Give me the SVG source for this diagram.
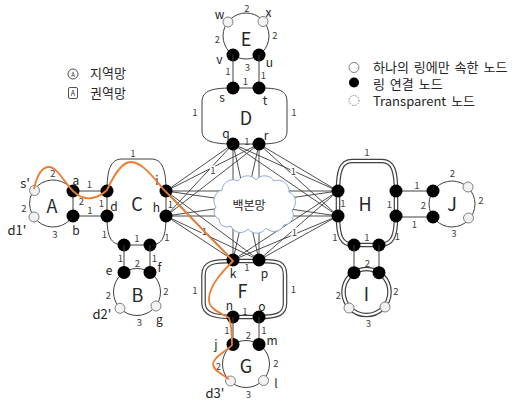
<svg xmlns="http://www.w3.org/2000/svg" width="526" height="401" viewBox="0 0 526 401">
<style>
text{font-family:"Noto Sans CJK KR","Noto Sans",sans-serif;text-anchor:middle;dominant-baseline:central;fill:#262626}
.n{font-size:9.5px;fill:#404040}
.h{stroke:#fff;stroke-width:3px;paint-order:stroke}
.lb{font-size:12px}
.dl{font-size:13px}
.rg{font-size:18px}
.lg{font-size:13px;text-anchor:start;word-spacing:2px}
.ln{fill:none;stroke:#404040;stroke-width:1}
.mesh line{stroke:#3a3a3a;stroke-width:0.9}
.dO{fill:none;stroke:#404040;stroke-width:4.6}
.dI{fill:none;stroke:#fff;stroke-width:2.2}
.bk{fill:#000}
.wt{fill:#f2f2f2;stroke:#7f7f7f;stroke-width:1}
.route{fill:none;stroke:#ED7D31;stroke-width:1.8}
</style>
<defs>
<path id="pH" d="M338,191 C338,171 341,161 352,161 L382,161 C393,161 396,171 396,191 M338,191 V216 M396,191 V216 M338,216 C338,236 341,245 354,245 H379 C393,245 396,236 396,216"/>
<path id="pF" d="M233,261 C214,261 203.5,262 203.5,275 L203.5,303 C203.5,314 214,317 233,317 M259,261 C278,261 285,262 285,275 L285,303 C285,314 278,317 259,317 M233,261 H259 M233,317 H259"/>
<circle id="pI" cx="366.5" cy="292" r="23"/>
</defs>

<!-- legend -->
<g id="legend">
<circle cx="73" cy="74" r="5" fill="#fff" stroke="#404040" stroke-width="0.9"/>
<text x="73" y="74" style="font-size:6px">A</text>
<text class="lg" x="90" y="72">지역망</text>
<rect x="68.5" y="87.5" width="9" height="11" rx="1.5" fill="#fff" stroke="#404040" stroke-width="0.9"/>
<text x="73" y="93" style="font-size:7px">A</text>
<text class="lg" x="90" y="92">권역망</text>
<circle cx="354" cy="67.5" r="5" fill="#fff" stroke="#7f7f7f"/>
<circle cx="354" cy="82.5" r="5" fill="#000"/>
<circle cx="354" cy="100.5" r="5" fill="#fff" stroke="#7f7f7f" stroke-dasharray="1.5 1.2"/>
<text class="lg" x="373" y="66.5">하나의 링에만 속한 노드</text>
<text class="lg" x="373" y="83">링 연결 노드</text>
<text class="lg" x="373" y="100.5">Transparent 노드</text>
</g>

<!-- connectors: backbone mesh and inter-ring links -->
<g id="connectors">
<g class="mesh">
<line x1="233" y1="144" x2="166" y2="191"/><line x1="233" y1="144" x2="166" y2="216"/>
<line x1="259" y1="144" x2="166" y2="191"/><line x1="259" y1="144" x2="166" y2="216"/>
<line x1="233" y1="144" x2="233" y2="260"/><line x1="233" y1="144" x2="259" y2="260"/>
<line x1="259" y1="144" x2="233" y2="260"/><line x1="259" y1="144" x2="259" y2="260"/>
<line x1="233" y1="144" x2="338" y2="191"/><line x1="233" y1="144" x2="338" y2="216"/>
<line x1="259" y1="144" x2="338" y2="191"/><line x1="259" y1="144" x2="338" y2="216"/>
<line x1="166" y1="191" x2="233" y2="260"/><line x1="166" y1="191" x2="259" y2="260"/>
<line x1="166" y1="216" x2="233" y2="260"/><line x1="166" y1="216" x2="259" y2="260"/>
<line x1="166" y1="191" x2="338" y2="191"/><line x1="166" y1="191" x2="338" y2="216"/>
<line x1="166" y1="216" x2="338" y2="191"/><line x1="166" y1="216" x2="338" y2="216"/>
<line x1="233" y1="260" x2="338" y2="191"/><line x1="233" y1="260" x2="338" y2="216"/>
<line x1="259" y1="260" x2="338" y2="191"/><line x1="259" y1="260" x2="338" y2="216"/>
</g>
<text class="n h" x="213" y="169.5">1</text>
<text class="n h" x="293.5" y="171">1</text>
<text class="n h" x="294.5" y="232">1</text>
<text class="n h" x="204.5" y="231">1</text>
<!-- links between neighbouring rings -->
<path class="ln" d="M73,191 H107 M73,216 H107 M396,191 H433 M396,217 H433"/>
<text class="n" x="89.5" y="184">1</text>
<text class="n" x="90" y="209.5">1</text>
<text class="n" x="417" y="185">1</text>
<text class="n" x="414.5" y="224">1</text>
</g>

<!-- backbone cloud -->
<g id="backbone">
<path d="M216,207 A11,11 0 0 1 222,190 A11,11 0 0 1 238,181 A11,11 0 0 1 256,180 A11,11 0 0 1 274,181 A11,11 0 0 1 289,192 A11,11 0 0 1 292,210 A10,10 0 0 1 284,225 A11,11 0 0 1 266,228 A11,11 0 0 1 248,229 A10,10 0 0 1 231,226 A8,8 0 0 1 219,219 A7.5,7.5 0 0 1 216,207 Z" fill="#fff" stroke="#8FAADC" stroke-width="1"/>
<text x="249" y="204" style="font-size:12px">백본망</text>
</g>

<!-- ring A -->
<g id="ring-A">
<path class="ln" d="M73,191 A23.5,23.5 0 1 0 73,216 Z"/>
<circle class="wt" cx="34.5" cy="190.5" r="5"/>
<circle class="wt" cx="34" cy="217" r="5"/>
<circle class="bk" cx="73" cy="191" r="6.5"/>
<circle class="bk" cx="73" cy="216" r="6.5"/>
<text class="rg" x="52" y="205">A</text>
<text class="n" x="53" y="173">2</text>
<text class="n" x="24" y="208">2</text>
<text class="n" x="55" y="234">3</text>
<text class="n" x="81.5" y="201">2</text>
<text class="dl" x="25" y="182">s'</text>
<text class="dl" x="17" y="229">d1'</text>
<text class="lb" x="76" y="179.5">a</text>
<text class="lb" x="76" y="229">b</text>
</g>

<!-- ring C -->
<g id="ring-C">
<path class="ln" d="M107,191 C107,171 110,159 122,159 L151,159 C163,159 166,171 166,191 M107,191 V216 M166,191 V216 M107,216 C107,236 110,245 124,245 H150 C163,245 166,236 166,216"/>
<circle class="bk" cx="107" cy="191" r="6.5"/>
<circle class="bk" cx="107" cy="216" r="6.5"/>
<circle class="bk" cx="166" cy="191" r="6.5"/>
<circle class="bk" cx="166" cy="216" r="6.5"/>
<circle class="bk" cx="124" cy="245" r="6.5"/>
<circle class="bk" cx="150" cy="245" r="6.5"/>
<text class="rg" x="137" y="203">C</text>
<text class="n" x="133" y="152.5">1</text>
<text class="n" x="101.5" y="203">1</text>
<text class="n" x="170.5" y="203.5">1</text>
<text class="n" x="104.5" y="234">1</text>
<text class="n" x="137" y="237.5">1</text>
<text class="n" x="167" y="237">1</text>
<text class="lb" x="114" y="205.5">d</text>
<text class="lb" x="156.5" y="206.5">h</text>
<text class="lb" x="157" y="179.5">i</text>
</g>

<!-- ring B -->
<g id="ring-B">
<path class="ln" d="M124,245 V272.4 M150,245 V272.4"/>
<circle class="ln" cx="137" cy="292" r="23.5"/>
<circle class="wt" cx="120" cy="308.3" r="5"/>
<circle class="wt" cx="156" cy="306" r="5"/>
<circle class="bk" cx="124" cy="272.4" r="6.5"/>
<circle class="bk" cx="150" cy="272.4" r="6.5"/>
<text class="rg" x="137.5" y="294">B</text>
<text class="n" x="120.5" y="258">1</text>
<text class="n" x="154.5" y="258">1</text>
<text class="n" x="137.5" y="263">2</text>
<text class="n" x="108.5" y="295">2</text>
<text class="n" x="166" y="291">2</text>
<text class="n" x="139.5" y="322">3</text>
<text class="lb" x="109" y="269.5">e</text>
<text class="lb" x="159.5" y="266">f</text>
<text class="dl" x="102" y="313">d2'</text>
<text class="lb" x="159.5" y="318">g</text>
</g>

<!-- ring E -->
<g id="ring-E">
<circle class="ln" cx="246" cy="36" r="23"/>
<circle class="wt" cx="228" cy="22" r="5"/>
<circle class="wt" cx="263" cy="21.5" r="5"/>
<circle class="bk" cx="233" cy="55" r="6.5"/>
<circle class="bk" cx="259" cy="55" r="6.5"/>
<text class="rg" x="246" y="37.5">E</text>
<text class="n" x="247" y="7.5">2</text>
<text class="n" x="217.5" y="39">2</text>
<text class="n" x="275" y="35">2</text>
<text class="n" x="247.5" y="66.5">3</text>
<text class="lb" x="219.5" y="13.5">w</text>
<text class="lb" x="268.5" y="11.5">x</text>
<text class="lb" x="219.5" y="58">v</text>
<text class="lb" x="269.5" y="61">u</text>
</g>

<!-- ring D -->
<g id="ring-D">
<path class="ln" d="M233,88 C213,88 202,90 202,102 L202,131 C202,141 213,144 233,144 M259,88 C279,88 287,90 287,102 L287,131 C287,141 279,144 259,144 M233,88 H259 M233,144 H259 M233,55 V88 M259,55 V88"/>
<circle class="bk" cx="233" cy="88" r="6.5"/>
<circle class="bk" cx="259" cy="88" r="6.5"/>
<circle class="bk" cx="233" cy="144" r="6.5"/>
<circle class="bk" cx="259" cy="144" r="6.5"/>
<text class="rg" x="246" y="117">D</text>
<text class="n" x="228" y="71">1</text>
<text class="n" x="263.5" y="75">1</text>
<text class="n" x="245.5" y="81">1</text>
<text class="n" x="195" y="112">1</text>
<text class="n" x="294" y="112">1</text>
<text class="n" x="247" y="141">1</text>
<text class="lb" x="222" y="96.5">s</text>
<text class="lb" x="265" y="99">t</text>
<text class="lb" x="226" y="132">q</text>
<text class="lb" x="266" y="134.5">r</text>
</g>

<!-- ring F -->
<g id="ring-F">
<use href="#pF" class="dO"/>
<use href="#pF" class="dI"/>
<circle class="bk" cx="233" cy="260" r="6.5"/>
<circle class="bk" cx="259" cy="260" r="6.5"/>
<circle class="bk" cx="233" cy="317" r="6.5"/>
<circle class="bk" cx="259" cy="317" r="6.5"/>
<text class="rg" x="242.5" y="290">F</text>
<text class="n" x="247" y="267">1</text>
<text class="n" x="245" y="311">1</text>
<text class="n" x="195" y="290">1</text>
<text class="n" x="293.5" y="288.5">1</text>
<text class="lb" x="233" y="272">k</text>
<text class="lb" x="264.5" y="272">p</text>
<text class="lb" x="229.5" y="304">n</text>
<text class="lb" x="262" y="305">o</text>
</g>

<!-- ring G -->
<g id="ring-G">
<path class="ln" d="M233,317 V344.4 M259,317 V344.4"/>
<circle class="ln" cx="246" cy="364" r="23.5"/>
<circle class="wt" cx="230.5" cy="381" r="5"/>
<circle class="wt" cx="263.5" cy="380.5" r="5"/>
<circle class="bk" cx="233" cy="344.4" r="6.5"/>
<circle class="bk" cx="259" cy="344.4" r="6.5"/>
<text class="rg" x="246" y="365">G</text>
<text class="n" x="227" y="329.5">1</text>
<text class="n" x="264" y="329.5">1</text>
<text class="n" x="248.5" y="335">2</text>
<text class="n" x="218.5" y="366">2</text>
<text class="n" x="276" y="363">2</text>
<text class="n" x="248.5" y="394">3</text>
<text class="lb" x="216" y="343">j</text>
<text class="lb" x="272" y="339">m</text>
<text class="dl" x="215" y="392">d3'</text>
<text class="lb" x="276" y="382">l</text>
</g>

<!-- ring H -->
<g id="ring-H">
<use href="#pH" class="dO"/>
<use href="#pH" class="dI"/>
<circle class="bk" cx="338" cy="191" r="6.5"/>
<circle class="bk" cx="338" cy="216" r="6.5"/>
<circle class="bk" cx="396" cy="191" r="6.5"/>
<circle class="bk" cx="396" cy="216" r="6.5"/>
<circle class="bk" cx="354" cy="245" r="6.5"/>
<circle class="bk" cx="379" cy="245" r="6.5"/>
<text class="rg" x="365" y="203">H</text>
<text class="n" x="367" y="152">1</text>
<text class="n" x="343" y="203">1</text>
<text class="n" x="389.5" y="204">1</text>
<text class="n" x="335" y="237">1</text>
<text class="n" x="367" y="237">1</text>
<text class="n" x="397.5" y="236">1</text>
</g>

<!-- ring I -->
<g id="ring-I">
<path class="ln" d="M354,245 V272.7 M379,245 V272.7"/>
<use href="#pI" class="dO"/>
<use href="#pI" class="dI"/>
<circle class="wt" cx="349" cy="308" r="5"/>
<circle class="wt" cx="385" cy="307" r="5"/>
<circle class="bk" cx="354" cy="272.7" r="6.5"/>
<circle class="bk" cx="379" cy="272.7" r="6.5"/>
<text class="rg" x="366.5" y="293">I</text>
<text class="n" x="367.5" y="263">2</text>
<text class="n" x="338.5" y="295">2</text>
<text class="n" x="396" y="291">2</text>
<text class="n" x="368.5" y="323">3</text>
</g>

<!-- ring J -->
<g id="ring-J">
<circle class="ln" cx="452" cy="204" r="23"/>
<circle class="wt" cx="468" cy="187" r="5"/>
<circle class="wt" cx="468.5" cy="218" r="5"/>
<circle class="bk" cx="433" cy="191" r="6.5"/>
<circle class="bk" cx="433" cy="217" r="6.5"/>
<text class="rg" x="452" y="203">J</text>
<text class="n" x="423.5" y="205">2</text>
<text class="n" x="452.5" y="173">2</text>
<text class="n" x="481" y="200">2</text>
<text class="n" x="454" y="233">3</text>
</g>

<!-- highlighted route s' to d3' -->
<g id="route">
<path class="route" d="M34,189 C37,175 42,167 49,167 C57,167 64,182 73,191 C79,197 86,199 92,198 C98,197 103,194 107,190 C113,177 121,162 131,162 C143,162 155,180 166,192 L233,261 C222,272 210,285 209,298 C208,310 222,313 229,318 C232,326 232,336 232,345 C226,352 214,356 213,364 C213,371 224,375 229,379"/>
</g>
</svg>
